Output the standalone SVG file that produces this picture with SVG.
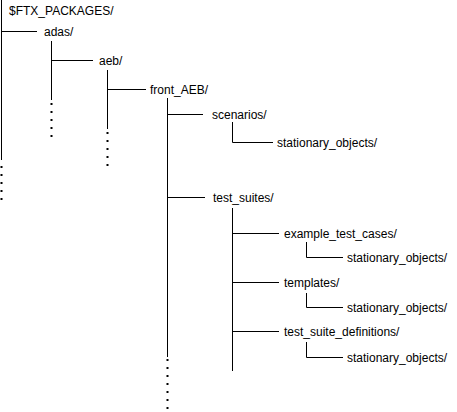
<svg xmlns="http://www.w3.org/2000/svg" width="457" height="412" viewBox="0 0 457 412">
<style>
text{font-family:"Liberation Sans",Arial,Helvetica,sans-serif;font-size:12px;fill:#000}
.c{stroke:#000;stroke-width:1;fill:none}
.d{stroke:#000;stroke-width:2;fill:none;stroke-dasharray:2 6}
</style>
<rect width="457" height="412" fill="#fff"/>
<g id="connectors">
<path class="c" d="M1.5 0V160M1.5 31.5H37"/>
<path class="d" d="M1.5 166V202"/>
<path class="c" d="M51.5 41V100M51.5 60.5H93"/>
<path class="d" d="M51.5 103V139"/>
<path class="c" d="M107.5 70V129M107.5 89.5H146"/>
<path class="d" d="M107.5 132V168"/>
<path class="c" d="M167.5 98V357M167.5 114.5H203M167.5 197.5H205"/>
<path class="d" d="M167.5 359V411"/>
<path class="c" d="M232.5 122V142.5H273"/>
<path class="c" d="M232.5 208V371M232.5 233.5H279M232.5 282.5H279M232.5 331.5H279"/>
<path class="c" d="M306.5 242V257.5H343M306.5 293V307.5H343M306.5 342V357.5H343"/>
</g>
<g id="n-root"><text x="9" y="15">$FTX_PACKAGES/</text></g>
<g id="n-adas"><text x="44" y="35.5">adas/</text></g>
<g id="n-aeb"><text x="99" y="64.5">aeb/</text></g>
<g id="n-front"><text x="150" y="93.5">front_AEB/</text></g>
<g id="n-scen"><text x="212" y="118.5">scenarios/</text></g>
<g id="n-scen-so"><text x="277" y="146.5">stationary_objects/</text></g>
<g id="n-ts"><text x="213" y="201.5">test_suites/</text></g>
<g id="n-ex"><text x="284" y="237.5">example_test_cases/</text></g>
<g id="n-ex-so"><text x="347" y="261.5">stationary_objects/</text></g>
<g id="n-tpl"><text x="284" y="286.5">templates/</text></g>
<g id="n-tpl-so"><text x="347" y="311.5">stationary_objects/</text></g>
<g id="n-tsd"><text x="284" y="335.5">test_suite_definitions/</text></g>
<g id="n-tsd-so"><text x="347" y="361.5">stationary_objects/</text></g>
</svg>
